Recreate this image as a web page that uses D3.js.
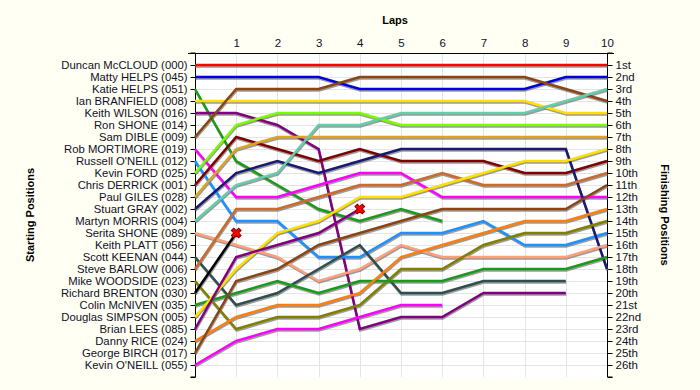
<!DOCTYPE html>
<html>
<head>
<meta charset="utf-8">
<script src="https://cdn.jsdelivr.net/npm/d3@7"></script>
<style>
  body { margin: 0; background: #fffff4; }
  text { font-family: "Liberation Sans", Arial, sans-serif; }
</style>
</head>
<body>
<script>
// Lap chart data
var lapNumbers = [0, 1, 2, 3, 4, 5, 6, 7, 8, 9, 10];

var driverNames = [
  "Duncan McCLOUD (000)", "Matty HELPS (045)", "Katie HELPS (051)", "Ian BRANFIELD (008)",
  "Keith WILSON (016)", "Ron SHONE (014)", "Sam DIBLE (009)", "Rob MORTIMORE (019)",
  "Russell O'NEILL (012)", "Kevin FORD (025)", "Chris DERRICK (001)", "Paul GILES (028)",
  "Stuart GRAY (002)", "Martyn MORRIS (004)", "Serita SHONE (089)", "Keith PLATT (056)",
  "Scott KEENAN (044)", "Steve BARLOW (006)", "Mike WOODSIDE (023)", "Richard BRENTON (030)",
  "Colin McNIVEN (035)", "Douglas SIMPSON (005)", "Brian LEES (085)", "Danny RICE (024)",
  "George BIRCH (017)", "Kevin O'NEILL (055)"
];

var finishLabels = [
  "1st", "2nd", "3rd", "4th", "5th", "6th", "7th", "8th", "9th", "10th", "11th", "12th", "13th",
  "14th", "15th", "16th", "17th", "18th", "19th", "20th", "21st", "22nd", "23rd", "24th", "25th", "26th"
];

// position at each lap, in starting order (null = did not start)
var lapPositions = [
  [1, 1, 1, 1, 1, 1, 1, 1, 1, 1, 1],
  [2, 2, 2, 2, 3, 3, 3, 3, 3, 2, 2],
  [3, 9, 11, 13, 14, 13, 14],
  [4, 4, 4, 4, 4, 4, 4, 4, 4, 5, 5],
  [5, 5, 6, 8, 23, 22, 22, 20, 20, 20],
  null,
  [7, 3, 3, 3, 2, 2, 2, 2, 2, 3, 4],
  [8, 12, 12, 11, 10, 10, 12, 12, 12, 12, 12],
  [9, 14, 14, 17, 17, 15, 15, 14, 16, 16, 15],
  [10, 6, 5, 5, 5, 6, 6, 6, 6, 6, 6],
  [11, 7, 8, 9, 8, 9, 9, 9, 10, 10, 9],
  [12, 8, 7, 7, 7, 7, 7, 7, 7, 7, 7],
  [13, 10, 9, 10, 9, 8, 8, 8, 8, 8, 18],
  [14, 11, 10, 6, 6, 5, 5, 5, 5, 4, 3],
  [15, 16, 17, 19, 18, 16, 17, 17, 17, 17, 16],
  null,
  [17, 21, 20, 18, 16, 20, 20, 19, 19, 19],
  [18, 13, 13, 12, 11, 11, 10, 11, 11, 11, 10],
  [19, 23, 22, 22, 21, 18, 18, 16, 15, 15, 14],
  [20, 15],
  [21, 20, 19, 20, 19, 19, 19, 18, 18, 18, 17],
  [22, 18, 15, 14, 12, 12, 11, 10, 9, 9, 8],
  [23, 17, 16, 15, 13],
  [24, 22, 21, 21, 20, 17, 16, 15, 14, 14, 13],
  [25, 19, 18, 16, 15, 14, 13, 13, 13, 13, 11],
  [26, 24, 23, 23, 22, 21, 21]
];

// drivers whose retirement is marked with a cross
var crashedDrivers = ["Richard BRENTON (030)", "Brian LEES (085)"];

var lineColors = [
  "#ff0000", "#0000dd", "#1a9a1a", "#ffe000", "#800080", "#999999", "#8b4513", "#ff00ff",
  "#1e90ff", "#7cfc00", "#800000", "#daa520", "#191970", "#66cdaa", "#ffa07a", "#999999",
  "#2f4f4f", "#cd6a2e", "#808000", "#000000", "#1a9a1a", "#ffe000", "#800080", "#ff7f0e",
  "#8b4513", "#ff00ff"
];

var svgWidth = 700;
var svgHeight = 390;

var svg = d3.select("body")
  .append("svg")
  .attr("width", svgWidth)
  .attr("height", svgHeight);

var xScale = d3.scaleLinear().domain([0, 10]).range([195, 607]);
var yScale = d3.scaleLinear().domain([0, 27]).range([53, 377]);

// plot background
svg.append("rect")
  .attr("x", xScale(0))
  .attr("y", yScale(0))
  .attr("width", xScale(10) - xScale(0))
  .attr("height", yScale(27) - yScale(0))
  .attr("fill", "#ffffff");

// grid
var grid = svg.append("g").attr("stroke", "#e4e4e4").attr("stroke-width", 1);
grid.selectAll(".hgrid")
  .data(d3.range(1, 27))
  .enter()
  .append("line")
  .attr("x1", xScale(0))
  .attr("x2", xScale(10))
  .attr("y1", d => yScale(d) + 0.5)
  .attr("y2", d => yScale(d) + 0.5);
grid.selectAll(".vgrid")
  .data(d3.range(1, 10))
  .enter()
  .append("line")
  .attr("x1", d => Math.round(xScale(d)) + 0.5)
  .attr("x2", d => Math.round(xScale(d)) + 0.5)
  .attr("y1", yScale(0))
  .attr("y2", yScale(27));

// Axes
var topAxis = d3.axisTop(xScale).tickValues(d3.range(1, 11)).tickSize(0).tickPadding(6);
var leftAxis = d3.axisLeft(yScale).tickValues(d3.range(1, 28)).tickSize(5)
  .tickFormat(d => d <= 26 ? driverNames[d - 1] : "");
var rightAxis = d3.axisRight(yScale).tickValues(d3.range(1, 28)).tickSize(5)
  .tickFormat(d => d <= 26 ? finishLabels[d - 1] : "");

var gTop = svg.append("g")
  .attr("transform", `translate(0, ${yScale(0)})`)
  .call(topAxis);
gTop.select(".domain").remove();
gTop.append("line")
  .attr("x1", 188).attr("x2", 614)
  .attr("y1", 0.5).attr("y2", 0.5)
  .attr("stroke", "#000");

var gLeft = svg.append("g")
  .attr("transform", `translate(${xScale(0) + 0.5}, 0)`)
  .call(leftAxis);
var gRight = svg.append("g")
  .attr("transform", `translate(${xScale(10) + 0.5}, 0)`)
  .call(rightAxis);

[gTop, gLeft, gRight].forEach(function(g) {
  g.selectAll("text")
    .style("font-size", "11.5px")
    .attr("fill", "#10102a");
  g.selectAll(".domain").attr("stroke", "#000");
  g.selectAll(".tick line").attr("stroke", "#000");
  g.attr("font-family", null);
});
gLeft.selectAll("text").style("font-size", "11.3px");
gLeft.select(".domain").attr("d", `M-5,${yScale(0)}H0V${yScale(27)}H-5`);
gRight.select(".domain").attr("d", `M5,${yScale(0)}H0V${yScale(27)}H5`);

// lines
var lapLine = d3.line()
  .x((d, i) => xScale(lapNumbers[i]))
  .y(d => yScale(d));

var racers = driverNames.map(function(name, i) {
  return { name: name, pos: lapPositions[i], color: lineColors[i] };
}).filter(d => d.pos);

var linesGroup = svg.append("g").attr("fill", "none");

linesGroup.selectAll(".shadow")
  .data(racers)
  .enter()
  .append("path")
  .attr("class", "shadow")
  .attr("d", d => lapLine(d.pos))
  .attr("transform", "translate(0.5, 1.5)")
  .attr("stroke", "#7a7a7a")
  .attr("stroke-opacity", 0.75)
  .attr("stroke-width", 2.5);

linesGroup.selectAll(".racer")
  .data(racers)
  .enter()
  .append("path")
  .attr("class", "racer")
  .attr("d", d => lapLine(d.pos))
  .attr("stroke", d => d.color)
  .attr("stroke-width", 2.5);

// crash markers
var crashes = racers.filter(d => crashedDrivers.indexOf(d.name) >= 0);
svg.selectAll(".crash")
  .data(crashes)
  .enter()
  .append("path")
  .attr("class", "crash")
  .attr("d", d3.symbol().type(d3.symbolCross).size(60))
  .attr("transform", d => `translate(${xScale(d.pos.length - 1)}, ${yScale(d.pos[d.pos.length - 1])}) rotate(45)`)
  .attr("fill", "#ff0000")
  .attr("stroke", "#8b0000")
  .attr("stroke-width", 1);

// titles
svg.append("text")
  .attr("x", 395)
  .attr("y", 24)
  .attr("text-anchor", "middle")
  .style("font-size", "11px")
  .style("font-weight", "bold")
  .text("Laps");

svg.append("text")
  .attr("transform", "translate(34, 215) rotate(-90)")
  .attr("text-anchor", "middle")
  .style("font-size", "11px")
  .style("font-weight", "bold")
  .text("Starting Positions");

svg.append("text")
  .attr("transform", "translate(661, 215) rotate(90)")
  .attr("text-anchor", "middle")
  .style("font-size", "11px")
  .style("font-weight", "bold")
  .text("Finishing Positions");
</script>
</body>
</html>
